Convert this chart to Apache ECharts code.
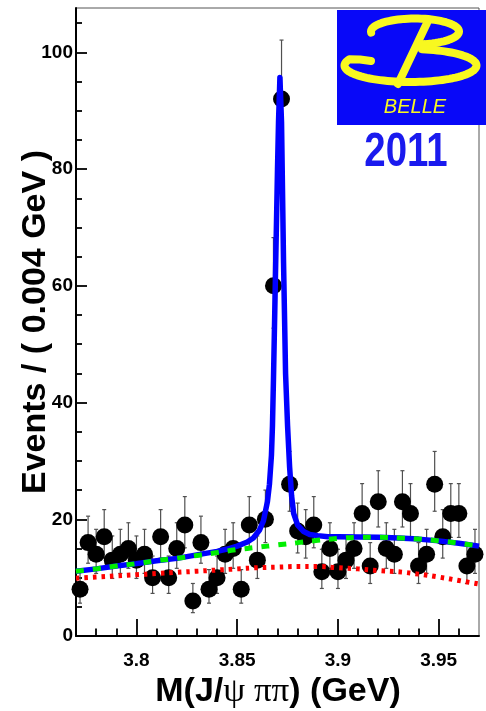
<!DOCTYPE html>
<html>
<head>
<meta charset="utf-8">
<script src="https://cdn.jsdelivr.net/npm/echarts@6/dist/echarts.min.js"></script>
<style>
  html, body { margin: 0; padding: 0; background: #ffffff; }
  #chart { width: 486px; height: 711px; }
</style>
</head>
<body>
<div id="chart"></div>
<script>
// M(J/psi pi pi) spectrum, 4 MeV bins
const binCenters = [
  3.772, 3.776, 3.780, 3.784, 3.788, 3.792, 3.796, 3.800, 3.804, 3.808,
  3.812, 3.816, 3.820, 3.824, 3.828, 3.832, 3.836, 3.840, 3.844, 3.848,
  3.852, 3.856, 3.860, 3.864, 3.868, 3.872, 3.876, 3.880, 3.884, 3.888,
  3.892, 3.896, 3.900, 3.904, 3.908, 3.912, 3.916, 3.920, 3.924, 3.928,
  3.932, 3.936, 3.940, 3.944, 3.948, 3.952, 3.956, 3.960, 3.964, 3.968
];
const counts = [
   8, 16, 14, 17, 13, 14, 15, 13, 14, 10,
  17, 10, 15, 19,  6, 16,  8, 10, 14, 15,
   8, 19, 13, 20, 60, 92, 26, 18, 17, 19,
  11, 15, 11, 13, 15, 21, 12, 23, 15, 14,
  23, 21, 12, 14, 26, 17, 21, 21, 12, 14
];

// Background curves (mass, events per bin)
const bkgMass = [
  3.77, 3.78, 3.79, 3.80, 3.81, 3.82, 3.83, 3.84, 3.85, 3.86, 3.87,
  3.88, 3.89, 3.90, 3.91, 3.92, 3.93, 3.94, 3.95, 3.96, 3.97
];
const bkgTotal = [
  11.1, 11.5, 12.0, 12.4, 12.9, 13.3, 13.8, 14.3, 14.8, 15.2, 15.6,
  16.0, 16.4, 16.7, 16.9, 16.9, 16.8, 16.6, 16.3, 15.9, 15.4
];
const bkgPart = [
  9.9, 10.1, 10.3, 10.5, 10.7, 10.9, 11.1, 11.3, 11.5, 11.7, 11.8,
  11.9, 11.9, 11.7, 11.5, 11.2, 11.0, 10.6, 10.1, 9.5, 8.9
];

// Full fit (signal + background)
const fitMass = [
  3.77, 3.78, 3.79, 3.80, 3.81, 3.82, 3.83, 3.84, 3.845, 3.85, 3.855,
  3.858, 3.861, 3.863, 3.865, 3.866, 3.867, 3.8675, 3.868, 3.869, 3.870,
  3.8705, 3.8712, 3.872, 3.873, 3.874, 3.875, 3.876, 3.877, 3.878, 3.880,
  3.883, 3.886, 3.890, 3.895, 3.90, 3.91, 3.92, 3.93, 3.94, 3.95, 3.96, 3.97
];
const fitTotal = [
  11.1, 11.5, 12.0, 12.4, 12.9, 13.3, 13.9, 14.5, 14.9, 15.4, 16.1,
  16.8, 18.1, 19.7, 23.0, 26.0, 31.0, 36.0, 44.0, 62.0, 80.0,
  88.0, 95.7, 88.0, 64.0, 45.0, 36.0, 29.0, 24.0, 21.0, 19.0,
  17.9, 17.4, 17.2, 17.0, 17.0, 16.95, 16.9, 16.8, 16.6, 16.3, 15.9, 15.4
];

const yMajor = [0, 20, 40, 60, 80, 100];
const yMinor = [5, 10, 15, 25, 30, 35, 45, 50, 55, 65, 70, 75, 85, 90, 95, 105];
const xMajor = [3.80, 3.85, 3.90, 3.95];
const xMinor = [3.78, 3.79, 3.81, 3.82, 3.83, 3.84, 3.86, 3.87, 3.88, 3.89,
                3.91, 3.92, 3.93, 3.94, 3.96];

const X_MIN = 3.77, X_MAX = 3.97, Y_MIN = 0, Y_MAX = 107.6;
const FONT = '"Liberation Sans", Arial, Helvetica, sans-serif';
const GREEK = '"Liberation Serif", "DejaVu Serif", serif';

// Poisson (68%) interval approximation for counted events
const points = binCenters.map((m, i) => [m, counts[i]]);
const errBars = binCenters.map((m, i) => {
  const n = counts[i];
  const s = Math.sqrt(n + 0.25);
  return [m, n - s + 0.5, n + s + 0.5];
});

function renderErr(params, api) {
  const x = api.value(0);
  const pLo = api.coord([x, api.value(1)]);
  const pHi = api.coord([x, api.value(2)]);
  const cap = 2;
  const st = { stroke: '#505050', lineWidth: 1.2 };
  return {
    type: 'group',
    children: [
      { type: 'line', shape: { x1: pLo[0], y1: pLo[1], x2: pHi[0], y2: pHi[1] }, style: st },
      { type: 'line', shape: { x1: pHi[0] - cap, y1: pHi[1], x2: pHi[0] + cap, y2: pHi[1] }, style: st },
      { type: 'line', shape: { x1: pLo[0] - cap, y1: pLo[1], x2: pLo[0] + cap, y2: pLo[1] }, style: st }
    ]
  };
}

// Elliptical arc as polyline points for the logo glyph
function arcPts(cx, cy, rx, ry, a0, a1, n) {
  const pts = [];
  for (let k = 0; k <= n; k++) {
    const a = (a0 + (a1 - a0) * k / n) * Math.PI / 180;
    pts.push([cx + rx * Math.cos(a), cy + ry * Math.sin(a)]);
  }
  return pts;
}

const upperLoop = arcPts(415, 31.5, 44, 13, 175, 445, 60);
const lowerLoop = arcPts(410.5, 65.5, 66, 16.5, 280, 562, 80);
lowerLoop.push([360, 59.5], [371, 61]);

const chart = echarts.init(document.getElementById('chart'), null, { renderer: 'canvas' });

const labelStyle = { fontFamily: FONT, fontWeight: 'bold', fontSize: 19, color: '#000' };
const LOGO_YELLOW = '#f8f820';

chart.setOption({
  animation: false,
  backgroundColor: '#ffffff',
  grid: {
    left: 76, right: 7, top: 8, bottom: 75,
    show: true, borderColor: '#555', borderWidth: 1, backgroundColor: 'transparent'
  },
  xAxis: [
    {
      type: 'value', min: X_MIN, max: X_MAX, position: 'bottom',
      axisLine: { show: true, onZero: false, lineStyle: { color: '#000', width: 2 } },
      axisTick: { show: true, inside: true, length: 17, customValues: xMajor,
                  lineStyle: { color: '#000', width: 1.8 } },
      axisLabel: Object.assign({ customValues: xMajor, margin: 15,
                  formatter: v => String(+(+v).toFixed(2)) }, labelStyle),
      splitLine: { show: false }
    },
    {
      type: 'value', min: X_MIN, max: X_MAX, position: 'bottom',
      axisLine: { show: false },
      axisTick: { show: true, inside: true, length: 7.5, customValues: xMinor,
                  lineStyle: { color: '#000', width: 1.8 } },
      axisLabel: { show: false },
      splitLine: { show: false }
    }
  ],
  yAxis: [
    {
      type: 'value', min: Y_MIN, max: Y_MAX, position: 'left',
      axisLine: { show: true, onZero: false, lineStyle: { color: '#000', width: 2 } },
      axisTick: { show: true, inside: true, length: 11, customValues: yMajor,
                  lineStyle: { color: '#000', width: 1.8 } },
      axisLabel: Object.assign({ customValues: yMajor, margin: 3 }, labelStyle),
      splitLine: { show: false }
    },
    {
      type: 'value', min: Y_MIN, max: Y_MAX, position: 'left',
      axisLine: { show: false },
      axisTick: { show: true, inside: true, length: 6, customValues: yMinor,
                  lineStyle: { color: '#000', width: 1.8 } },
      axisLabel: { show: false },
      splitLine: { show: false }
    }
  ],
  series: [
    {
      name: 'errors', type: 'custom', data: errBars, renderItem: renderErr,
      encode: { x: 0, y: [1, 2] }, clip: false, z: 2, silent: true
    },
    {
      name: 'data', type: 'scatter', data: points, symbol: 'circle', symbolSize: 17,
      itemStyle: { color: '#000', opacity: 1 }, clip: false, z: 3, silent: true
    },
    {
      name: 'fit', type: 'line', data: fitMass.map((m, i) => [m, fitTotal[i]]),
      showSymbol: false, symbol: 'none', smooth: false, z: 4, silent: true,
      lineStyle: { color: '#0000ff', width: 5.5, join: 'round' }
    },
    {
      name: 'background', type: 'line', data: bkgMass.map((m, i) => [m, bkgTotal[i]]),
      showSymbol: false, symbol: 'none', smooth: true, z: 5, silent: true,
      lineStyle: { color: '#00ee00', width: 5, type: [8, 9], cap: 'butt' }
    },
    {
      name: 'background component', type: 'line', data: bkgMass.map((m, i) => [m, bkgPart[i]]),
      showSymbol: false, symbol: 'none', smooth: true, z: 5, silent: true,
      lineStyle: { color: '#ff0000', width: 5, type: [3.5, 5], cap: 'butt' }
    }
  ],
  graphic: [
    {
      type: 'text', z: 50, x: 36, y: 322, rotation: Math.PI / 2,
      style: { text: 'Events / ( 0.004 GeV )', x: 0, y: 0, align: 'center', verticalAlign: 'middle',
               font: 'bold 34px ' + FONT, fill: '#000' }
    },
    {
      type: 'text', z: 50, x: 278, y: 692, scaleX: 1.03,
      style: {
        text: '{b|M(J/}{g|ψ ππ}{b|) (GeV)}', x: 0, y: 0, align: 'center', verticalAlign: 'middle',
        rich: {
          b: { fontFamily: FONT, fontWeight: 'bold', fontSize: 33, fill: '#000' },
          g: { fontFamily: GREEK, fontWeight: 'normal', fontSize: 34, fill: '#000' }
        }
      }
    },
    {
      type: 'group', z: 100,
      children: [
        { type: 'rect', shape: { x: 337, y: 10, width: 149, height: 115 },
          style: { fill: '#0808f8' }, z: 100 },
        { type: 'polyline', shape: { points: upperLoop }, z: 101,
          style: { stroke: LOGO_YELLOW, lineWidth: 8, fill: null, lineCap: 'round', lineJoin: 'round' } },
        { type: 'polyline', shape: { points: lowerLoop }, z: 101,
          style: { stroke: LOGO_YELLOW, lineWidth: 8, fill: null, lineCap: 'round', lineJoin: 'round' } },
        { type: 'line', shape: { x1: 427, y1: 23, x2: 398, y2: 84 }, z: 101,
          style: { stroke: LOGO_YELLOW, lineWidth: 8, lineCap: 'round' } },
        { type: 'text', z: 101, x: 415, y: 107,
          style: { text: 'BELLE', x: 0, y: 0, align: 'center', verticalAlign: 'middle',
                   font: 'italic 20px ' + FONT, fill: LOGO_YELLOW } },
        { type: 'text', z: 101, x: 406, y: 153, scaleX: 0.8,
          style: { text: '2011', x: 0, y: 0, align: 'center', verticalAlign: 'middle',
                   font: 'bold 48px ' + FONT, fill: '#1a1aee' } }
      ]
    }
  ]
});
</script>
</body>
</html>
